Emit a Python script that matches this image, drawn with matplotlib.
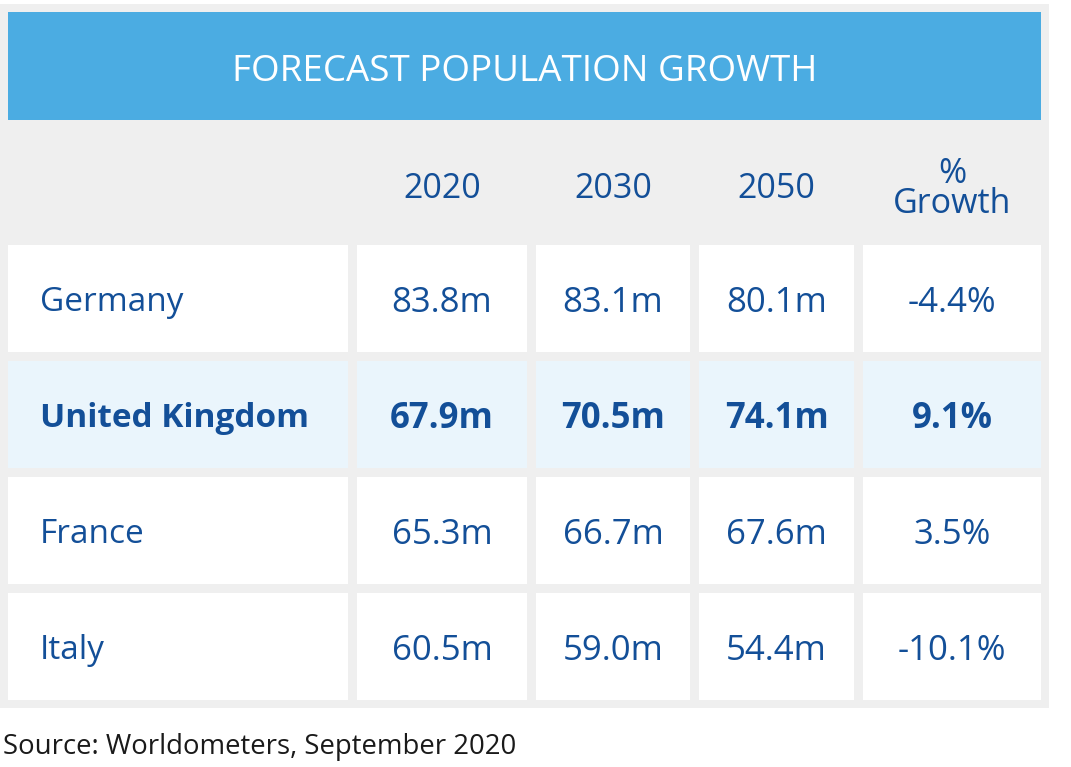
import matplotlib.pyplot as plt
from matplotlib.patches import Rectangle

plt.rcParams['font.family'] = ['Open Sans', 'DejaVu Sans']

title = 'FORECAST POPULATION GROWTH'
years = ['2020', '2030', '2050']
countries = ['Germany', 'United Kingdom', 'France', 'Italy']
pop_2020 = [83.8, 67.9, 65.3, 60.5]
pop_2030 = [83.1, 70.5, 66.7, 59.0]
pop_2050 = [80.1, 74.1, 67.6, 54.4]
growth = [-4.4, 9.1, 3.5, -10.1]
highlight = 'United Kingdom'
source = 'Source: Worldometers, September 2020'

W, H = 1071, 767
BLUE = '#4BACE2'
GREY = '#EFEFEF'
TEXT = '#134F98'
HL_BG = '#EAF5FC'

# column edges (pixels) and row tops
col_l = [8, 357, 536, 699, 863]
col_r = [348, 527, 690, 854, 1041]
row_top = [245, 361, 477, 593]
row_h = 107
dy = 4  # nudge text down a little

fig = plt.figure(figsize=(W / 100, H / 100), dpi=100)
ax = fig.add_axes([0, 0, 1, 1])
ax.set_xlim(0, W)
ax.set_ylim(H, 0)
ax.axis('off')

# grey panel + blue banner
ax.add_patch(Rectangle((0, 4), 1049, 704, color=GREY, lw=0))
ax.add_patch(Rectangle((8, 12), 1033, 108, color=BLUE, lw=0))
ax.text((8 + 1041) / 2, 68 + dy, title, color='white', fontsize=26.5,
        ha='center', va='center')

# header row
for i, y in enumerate(years):
    ax.text((col_l[i + 1] + col_r[i + 1]) / 2, 185 + dy, y, color=TEXT,
            fontsize=24.5, ha='center', va='center')
ax.text((col_l[4] + col_r[4]) / 2, 185 + dy, '%\nGrowth', color=TEXT,
        fontsize=24.5, ha='center', va='center', linespacing=0.85)

for r, name in enumerate(countries):
    hl = name == highlight
    bg = HL_BG if hl else 'white'
    weight = 'bold' if hl else 'normal'
    top = row_top[r]
    cy = top + row_h / 2 + dy
    for c in range(5):
        ax.add_patch(Rectangle((col_l[c], top), col_r[c] - col_l[c], row_h,
                               color=bg, lw=0))
    vals = [f'{pop_2020[r]:.1f}m', f'{pop_2030[r]:.1f}m',
            f'{pop_2050[r]:.1f}m', f'{growth[r]:.1f}%']
    ax.text(40, cy, name, color=TEXT, fontsize=24, fontweight=weight,
            ha='left', va='center')
    for c, v in enumerate(vals):
        ax.text((col_l[c + 1] + col_r[c + 1]) / 2, cy, v, color=TEXT,
                fontsize=25, fontweight=weight, ha='center', va='center')

ax.text(3, 745 + 2, source, color='#1a1a1a', fontsize=19.8, ha='left', va='center')

fig.savefig('out.png', dpi=100)
